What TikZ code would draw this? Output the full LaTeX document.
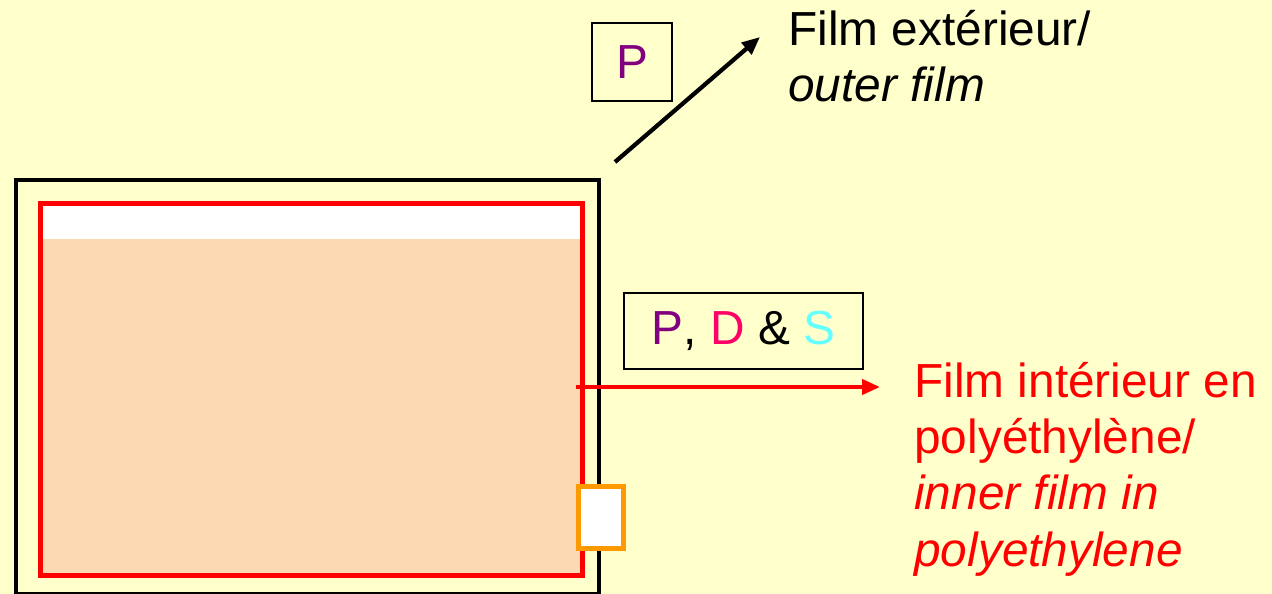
\documentclass[tikz,border=0pt]{standalone}
\usepackage{fontspec}
\setmainfont{Liberation Sans}
\usetikzlibrary{arrows.meta}
\definecolor{sheetbg}{HTML}{FFFFCC}
\definecolor{bagfill}{HTML}{FDD9B3}
\definecolor{filmred}{HTML}{FF0000}
\definecolor{valveorange}{HTML}{FF9900}
\definecolor{gasP}{HTML}{800080}
\definecolor{gasD}{HTML}{FF0066}
\definecolor{gasS}{HTML}{66FFFF}

\begin{document}
\begin{tikzpicture}[
  x=0.02cm,
  y=-0.02cm,
  every node/.style={font=\fontsize{27.2}{31.9}\selectfont, inner sep=0pt},
  outerfilm/.style={black, line width=0.09cm},
  innerfilm/.style={filmred, line width=0.1cm},
  valve/.style={valveorange, fill=white, line width=0.1cm},
  gasbox/.style={draw=black, line width=0.03cm},
  pointer/.style={line width=0.085cm, -{Triangle[length=0.36cm, width=0.3cm]}}
]
  % ---- page: 1272 x 594 px, one unit = one pixel ----
  \useasboundingbox (0,0) rectangle (1272,594);
  \fill[sheetbg] (0,0) rectangle (1272,594);

  % ---- bag content, with the empty head space on top ----
  \fill[bagfill] (40.5,203.5) rectangle (582,575.5);
  \fill[white] (43,206) rectangle (579.5,239);

  % ---- the two films ----
  \draw[innerfilm] (40.5,203.5) rectangle (582,575.5);
  \draw[outerfilm] (16,180) rectangle (599,594);

  % ---- valve on the right side ----
  \draw[valve] (578.5,486.5) rectangle (623.5,548.5);

  % ---- what passes each film ----
  \node[gasbox, minimum width=1.6cm, minimum height=1.56cm] (pbox) at (632,62)
    {\color{gasP}P};
  \node[gasbox, minimum width=4.78cm, minimum height=1.52cm] (pdsbox) at (743.5,331)
    {{\color{gasP}P}, {\color{gasD}D} \& {\color{gasS}S}};

  % ---- labels (base = baseline of the last line) ----
  \node[anchor=base west, align=left] (outerlbl) at (788,102)
    {Film extérieur/\\\textit{outer film}};
  \node[anchor=base west, align=left, text=filmred] (innerlbl) at (914,566)
    {Film intérieur en\\polyéthylène/\\\textit{inner film in}\\\textit{polyethylene}};

  % ---- arrows to the labels ----
  \coordinate (outertail) at (615,162);
  \coordinate (outertip) at (760,37);
  \draw[pointer, black] (outertail) -- (outertip);
  \coordinate (innertail) at (576,387);
  \coordinate (innertip) at (880,387);
  \draw[pointer, filmred] (innertail) -- (innertip);
\end{tikzpicture}
\end{document}
